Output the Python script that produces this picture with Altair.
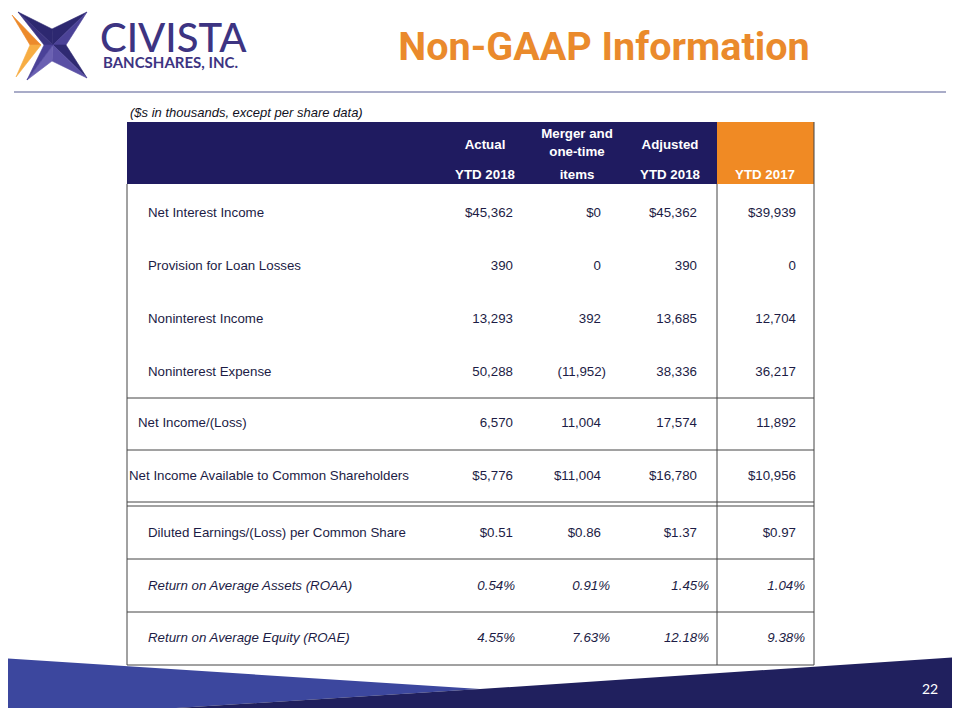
import altair as alt
import pandas as pd

# ---------------- data ----------------
row_labels = [
    "Net Interest Income",
    "Provision for Loan Losses",
    "Noninterest Income",
    "Noninterest Expense",
    "Net Income/(Loss)",
    "Net Income Available to Common Shareholders",
    "Diluted Earnings/(Loss) per Common Share",
    "Return on Average Assets (ROAA)",
    "Return on Average Equity (ROAE)",
]
actual_ytd_2018 = ["$45,362", "390", "13,293", "50,288", "6,570", "$5,776", "$0.51", "0.54%", "4.55%"]
merger_one_time = ["$0", "0", "392", "(11,952)", "11,004", "$11,004", "$0.86", "0.91%", "7.63%"]
adjusted_ytd_2018 = ["$45,362", "390", "13,685", "38,336", "17,574", "$16,780", "$1.37", "1.45%", "12.18%"]
ytd_2017 = ["$39,939", "0", "12,704", "36,217", "11,892", "$10,956", "$0.97", "1.04%", "9.38%"]

header_top = ["Actual", "Merger and", "Adjusted", ""]
header_mid = ["", "one-time", "", ""]
header_bottom = ["YTD 2018", "items", "YTD 2018", "YTD 2017"]

units_note = "($s in thousands, except per share data)"
title_text = "Non-GAAP Information"
brand_name = "CIVISTA"
brand_sub = "BANCSHARES, INC."
page_number = "22"

# ---------------- layout (pixel positions of the slide) ----------------
OX, OY = 8, 8
W, H = 944, 700
row_y = [213, 266, 319, 372, 423, 476, 533, 586, 638]
label_x = [148, 148, 148, 148, 138, 129, 148, 148, 148]
italic_rows = {7, 8}
col_right = [513, 601, 697, 796]
col_right_pct = [515, 610, 709, 805]
header_cx = [485, 577, 670, 765]
TL, TR, TB, TBOT = 127, 814, 122, 665
SPLIT_X, HEAD_BOT = 717, 184
h_lines_y = [398, 450, 502, 506, 559, 612, 665]
FS = 13.3

NAVY = "#1f1b60"
ORANGE = "#f08a24"
TEXT = "#1c1c45"
PURPLE = "#3d3482"

xs = alt.Scale(domain=[OX, OX + W], nice=False, zero=False)
ys = alt.Scale(domain=[OY, OY + H], nice=False, zero=False, reverse=True)


def X(f="x"):
    return alt.X(f"{f}:Q", scale=xs, axis=None)


def Y(f="y"):
    return alt.Y(f"{f}:Q", scale=ys, axis=None)


layers = []

# bottom banner
blue_band = pd.DataFrame({"x": [0, 480], "y": [658, 689], "y2": [719, 689]})
navy_band = pd.DataFrame({"x": [0, 480, 960], "y": [719, 689, 657], "y2": [720, 720, 720]})
layers.append(alt.Chart(blue_band).mark_area(color="#3c479e").encode(x=X(), y=Y(), y2=alt.Y2("y2:Q")))
layers.append(alt.Chart(navy_band).mark_area(color="#20205e").encode(x=X(), y=Y(), y2=alt.Y2("y2:Q")))

# separator line
sep = pd.DataFrame({"x": [14], "x2": [946], "y": [92]})
layers.append(alt.Chart(sep).mark_rule(color="#8c90b6", strokeWidth=1.5).encode(x=X(), x2=alt.X2("x2:Q"), y=Y()))

# logo (star made of triangles drawn as custom symbols)
C = (53, 45)
P = {
    "TL": (18, 12), "TR": (87, 12), "BR": (87, 78), "BL": (27, 80),
    "TI": (52, 29), "RI": (66, 45), "BI": (52, 61), "LI": (44, 45),
    "C": C,
    "O1": (12, 15), "O2": (41, 45), "O3": (30, 45), "O4": (16, 77),
}
pieces = [
    (["TL", "TI", "C"], "#2d2870"),
    (["TL", "C", "LI"], "#3a3380"),
    (["TI", "TR", "C"], "#2d2870"),
    (["TR", "RI", "C"], "#4b4297"),
    (["RI", "BR", "C"], "#2f2a72"),
    (["BR", "BI", "C"], "#5a50a5"),
    (["BI", "BL", "C"], "#6a60b2"),
    (["BL", "LI", "C"], "#4a4198"),
    (["O1", "O2", "O3"], "#ec8a2b"),
    (["O3", "O2", "O4"], "#f7ad43"),
]
logo_rows = []
for names, col in pieces:
    pts = [P[n] for n in names]
    path = "M" + "L".join(f"{px - C[0]},{py - C[1]}" for px, py in pts) + "Z"
    logo_rows.append({"x": C[0], "y": C[1], "path": path, "col": col})
logo = pd.DataFrame(logo_rows)
layers.append(
    alt.Chart(logo)
    .mark_point(filled=True, opacity=1, strokeWidth=0.6, size=4)
    .encode(
        x=X(), y=Y(),
        shape=alt.Shape("path:N", scale=None, legend=None),
        color=alt.Color("col:N", scale=None, legend=None),
        stroke=alt.Stroke("col:N", scale=None, legend=None),
    )
)

# brand text
layers.append(alt.Chart(pd.DataFrame({"x": [100], "y": [52], "t": [brand_name]})).mark_text(
    align="left", baseline="alphabetic", font="Lato", fontSize=40, fontWeight=500, color=PURPLE
).encode(x=X(), y=Y(), text="t:N"))
layers.append(alt.Chart(pd.DataFrame({"x": [103], "y": [68], "t": [brand_sub]})).mark_text(
    align="left", baseline="alphabetic", font="Lato", fontSize=15, fontWeight="bold", color=PURPLE
).encode(x=X(), y=Y(), text="t:N"))

# title
layers.append(alt.Chart(pd.DataFrame({"x": [604], "y": [60], "t": [title_text]})).mark_text(
    align="center", baseline="alphabetic", font="Roboto", fontSize=39.5, fontWeight="bold", color="#ea8a2c"
).encode(x=X(), y=Y(), text="t:N"))

# units note
layers.append(alt.Chart(pd.DataFrame({"x": [130], "y": [113], "t": [units_note]})).mark_text(
    align="left", baseline="middle", font="Liberation Sans", fontSize=13, fontStyle="italic", color="#111122"
).encode(x=X(), y=Y(), text="t:N"))

# page number
layers.append(alt.Chart(pd.DataFrame({"x": [930], "y": [690], "t": [page_number]})).mark_text(
    align="center", baseline="middle", font="Lato", fontSize=14, color="white"
).encode(x=X(), y=Y(), text="t:N"))

# header background
head = pd.DataFrame({
    "x": [TL, SPLIT_X], "x2": [SPLIT_X, TR], "y": [TB, TB], "y2": [HEAD_BOT, HEAD_BOT],
    "col": [NAVY, ORANGE],
})
layers.append(alt.Chart(head).mark_rect().encode(
    x=X(), x2=alt.X2("x2:Q"), y=Y(), y2=alt.Y2("y2:Q"), color=alt.Color("col:N", scale=None)))

# table lines
hl = pd.DataFrame({"x": [TL] * len(h_lines_y), "x2": [TR] * len(h_lines_y), "y": h_lines_y})
layers.append(alt.Chart(hl).mark_rule(color="#444444", strokeWidth=1).encode(x=X(), x2=alt.X2("x2:Q"), y=Y()))
vl = pd.DataFrame({"x": [TL, SPLIT_X, TR], "y": [HEAD_BOT, HEAD_BOT, TB], "y2": [TBOT, TBOT, TBOT]})
layers.append(alt.Chart(vl).mark_rule(color="#444444", strokeWidth=1).encode(x=X(), y=Y(), y2=alt.Y2("y2:Q")))

# header texts
hdr_rows = []
for j in range(4):
    if header_top[j] and not header_mid[j]:
        hdr_rows.append({"x": header_cx[j], "y": 145, "t": header_top[j]})
    elif header_top[j]:
        hdr_rows.append({"x": header_cx[j], "y": 134, "t": header_top[j]})
        hdr_rows.append({"x": header_cx[j], "y": 152, "t": header_mid[j]})
    hdr_rows.append({"x": header_cx[j], "y": 175, "t": header_bottom[j]})
layers.append(alt.Chart(pd.DataFrame(hdr_rows)).mark_text(
    align="center", baseline="middle", font="Liberation Sans", fontSize=FS, fontWeight="bold", color="white"
).encode(x=X(), y=Y(), text="t:N"))

# row labels
lab = pd.DataFrame({"x": label_x, "y": row_y, "t": row_labels,
                    "st": ["italic" if i in italic_rows else "normal" for i in range(len(row_labels))]})
layers.append(alt.Chart(lab[lab.st == "normal"]).mark_text(
    align="left", baseline="middle", font="Liberation Sans", fontSize=FS, color=TEXT
).encode(x=X(), y=Y(), text="t:N"))
layers.append(alt.Chart(lab[lab.st == "italic"]).mark_text(
    align="left", baseline="middle", font="Liberation Sans", fontSize=FS, fontStyle="italic", color=TEXT
).encode(x=X(), y=Y(), text="t:N"))

# values
cols = [actual_ytd_2018, merger_one_time, adjusted_ytd_2018, ytd_2017]
vals_n, vals_i = [], []
for i in range(len(row_labels)):
    for j, col in enumerate(cols):
        v = col[i]
        if i in italic_rows:
            vals_i.append({"x": col_right_pct[j], "y": row_y[i], "t": v})
        else:
            xr = col_right[j] + (5 if v.endswith(")") else 0)
            vals_n.append({"x": xr, "y": row_y[i], "t": v})
layers.append(alt.Chart(pd.DataFrame(vals_n)).mark_text(
    align="right", baseline="middle", font="Liberation Sans", fontSize=FS, color=TEXT
).encode(x=X(), y=Y(), text="t:N"))
layers.append(alt.Chart(pd.DataFrame(vals_i)).mark_text(
    align="right", baseline="middle", font="Liberation Sans", fontSize=FS, fontStyle="italic", color=TEXT
).encode(x=X(), y=Y(), text="t:N"))

chart = (
    alt.layer(*layers)
    .properties(width=W, height=H, padding=0, autosize=alt.AutoSizeParams(type="none"), background="white")
    .configure_view(stroke=None)
)
chart.save("out.html", embed_options={"renderer": "svg", "actions": False})
